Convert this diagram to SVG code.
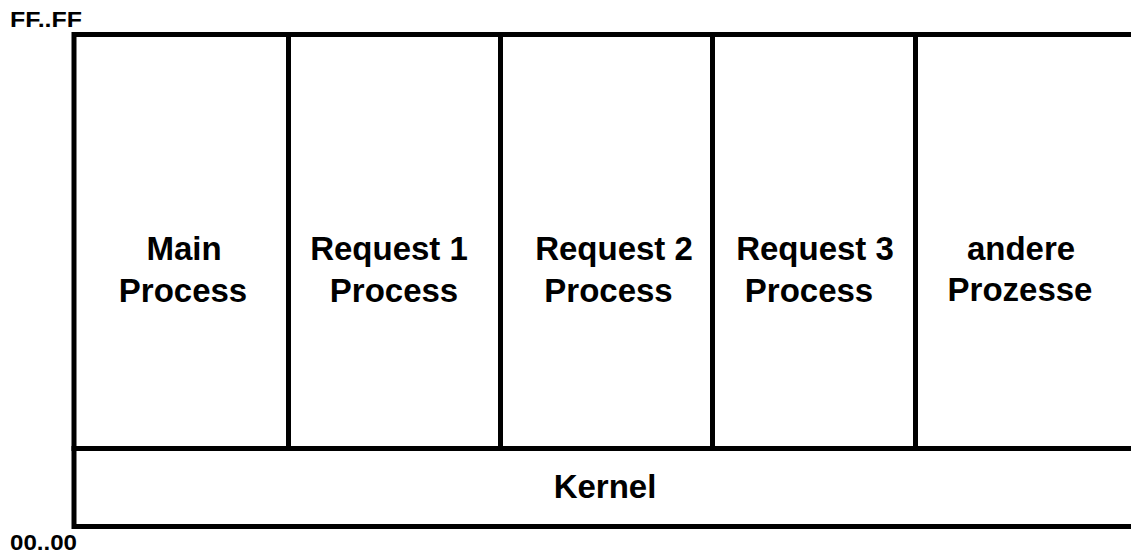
<svg xmlns="http://www.w3.org/2000/svg" width="1131" height="553" viewBox="0 0 1131 553">
  <style>
    .cell { fill: #ffffff; stroke: #000000; stroke-width: 5; stroke-linejoin: miter; }
    .label { font-family: "Liberation Sans", Arial, sans-serif; font-weight: bold; font-size: 33px; fill: #000000; text-anchor: middle; }
    .addr { font-family: "Liberation Sans", Arial, sans-serif; font-weight: bold; font-size: 22px; fill: #000000; }
  </style>
  <rect x="0" y="0" width="1131" height="553" fill="#ffffff"/>

  <!-- address range markers -->
  <g id="addr-top">
    <text class="addr" x="10" y="27" textLength="72" lengthAdjust="spacingAndGlyphs">FF..FF</text>
  </g>
  <g id="addr-bottom">
    <text class="addr" x="10" y="550" textLength="67" lengthAdjust="spacingAndGlyphs">00..00</text>
  </g>

  <!-- user-space process slots -->
  <g id="main-process">
    <rect class="cell" x="74" y="34.5" width="214.5" height="414"/>
    <text class="label" x="184" y="260">Main</text>
    <text class="label" x="183" y="302">Process</text>
  </g>
  <g id="request1-process">
    <rect class="cell" x="288.5" y="34.5" width="212" height="414"/>
    <text class="label" x="389" y="260">Request 1</text>
    <text class="label" x="394" y="302">Process</text>
  </g>
  <g id="request2-process">
    <rect class="cell" x="500.5" y="34.5" width="212" height="414"/>
    <text class="label" x="614" y="260">Request 2</text>
    <text class="label" x="608.5" y="302">Process</text>
  </g>
  <g id="request3-process">
    <rect class="cell" x="712.5" y="34.5" width="203" height="414"/>
    <text class="label" x="815" y="260">Request 3</text>
    <text class="label" x="809" y="302">Process</text>
  </g>
  <g id="other-processes">
    <rect class="cell" x="915.5" y="34.5" width="224.5" height="414"/>
    <text class="label" x="1021" y="260">andere</text>
    <text class="label" x="1020" y="301">Prozesse</text>
  </g>

  <!-- kernel space -->
  <g id="kernel">
    <rect class="cell" x="74" y="448.5" width="1066" height="78"/>
    <text class="label" x="605" y="498">Kernel</text>
  </g>

  <g id="connectors"></g>
</svg>
